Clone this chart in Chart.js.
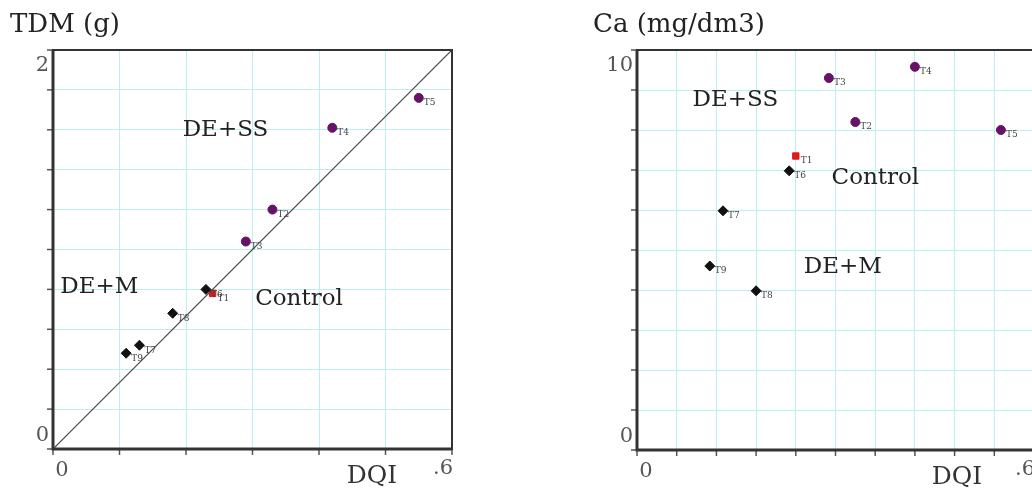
<!DOCTYPE html>
<html>
<head>
<meta charset="utf-8">
<script src="https://cdn.jsdelivr.net/npm/chart.js@4.4.1/dist/chart.umd.min.js"></script>
<style>
  html, body { margin: 0; padding: 0; background: #fff; width: 1032px; height: 491px; overflow: hidden; }
  canvas { position: absolute; top: 0; }
  #tdmChart { left: 0; }
  #caChart { left: 560px; }
</style>
</head>
<body>
<canvas id="tdmChart" width="480" height="491"></canvas>
<canvas id="caChart" width="480" height="491"></canvas>
<script>
// ─── data ────────────────────────────────────────────────────────────────────
const TREATMENTS = ['T1', 'T2', 'T3', 'T4', 'T5', 'T6', 'T7', 'T8', 'T9'];
const DQI        = [0.24, 0.33, 0.29, 0.42, 0.55, 0.23, 0.13, 0.18, 0.11];
const TDM        = [0.78, 1.20, 1.04, 1.61, 1.76, 0.80, 0.52, 0.68, 0.48];
const CA         = [7.35, 8.2, 9.3, 9.58, 8.0, 6.98, 5.98, 3.98, 4.6];

const CONTROL_IDX = [0];
const DESS_IDX    = [1, 2, 3, 4];
const DEM_IDX     = [5, 6, 7, 8];

const DIAG_X = [0, 0.6];
const DIAG_Y = [0, 2];

const SERIF = '"DejaVu Serif", "Liberation Serif", serif';

function points(idx, ys) {
  return idx.map(i => ({ x: DQI[i], y: ys[i], t: TREATMENTS[i] }));
}

function groupDatasets(ys) {
  return [
    { label: 'DE+SS', data: points(DESS_IDX, ys), pointStyle: 'circle', pointRadius: 4.5,
      backgroundColor: '#661268', borderColor: '#661268', tags: true },
    { label: 'DE+M', data: points(DEM_IDX, ys), pointStyle: 'rectRot', pointRadius: 5,
      backgroundColor: '#111', borderColor: '#111', tags: true },
    { label: 'Control', data: points(CONTROL_IDX, ys), pointStyle: 'rect', pointRadius: 4.5,
      backgroundColor: '#e0191d', borderColor: '#e0191d', tags: true },
  ];
}

// box, ticks, texts and point tags
const decorPlugin = {
  id: 'decor',
  afterDatasetsDraw(chart, args, opts) {
    const { ctx, chartArea: a, scales } = chart;
    const x = scales.x, y = scales.y;
    ctx.save();

    // tick marks
    ctx.strokeStyle = '#555';
    ctx.lineWidth = 1.5;
    x.ticks.forEach(t => {
      const px = x.getPixelForValue(t.value);
      ctx.beginPath(); ctx.moveTo(px, a.bottom); ctx.lineTo(px, a.bottom + 6); ctx.stroke();
    });
    y.ticks.forEach(t => {
      const py = y.getPixelForValue(t.value);
      ctx.beginPath(); ctx.moveTo(a.left - 6, py); ctx.lineTo(a.left, py); ctx.stroke();
    });

    // frame
    ctx.strokeStyle = '#333';
    ctx.lineWidth = 2;
    ctx.strokeRect(a.left, a.top, a.right - a.left, a.bottom - a.top);
    ctx.lineWidth = 3;
    ctx.beginPath();
    ctx.moveTo(a.left, a.top); ctx.lineTo(a.left, a.bottom); ctx.lineTo(a.right, a.bottom);
    ctx.stroke();

    // point tags
    ctx.fillStyle = '#444';
    ctx.font = '9px ' + SERIF;
    ctx.textAlign = 'left';
    ctx.textBaseline = 'middle';
    chart.data.datasets.forEach((ds, di) => {
      if (!ds.tags) return;
      chart.getDatasetMeta(di).data.forEach((el, i) => {
        ctx.fillText(ds.data[i].t, el.x + 5, el.y + 5);
      });
    });

    // title
    ctx.fillStyle = '#222';
    ctx.font = '26px ' + SERIF;
    ctx.textAlign = 'left';
    ctx.textBaseline = 'alphabetic';
    ctx.fillText(opts.title, opts.titleX, 32);
    ctx.textBaseline = 'middle';

    // axis end labels
    ctx.fillStyle = '#555';
    ctx.font = '21px ' + SERIF;
    ctx.textAlign = 'right';
    ctx.fillText(opts.yTop, a.left - 4, a.top + 16);
    ctx.fillText(opts.yBottom, a.left - 4, a.bottom - 13);
    ctx.textAlign = 'center';
    ctx.fillText('0', a.left + 9, a.bottom + 22);
    ctx.fillText('.6', a.right - 9, a.bottom + 20);
    ctx.fillStyle = '#333';
    ctx.font = '25px ' + SERIF;
    ctx.fillText('DQI', opts.dqiX, a.bottom + 27);

    // group labels
    ctx.fillStyle = '#222';
    ctx.font = '23px ' + SERIF;
    ctx.textAlign = 'left';
    opts.notes.forEach(n => {
      ctx.fillText(n.text, x.getPixelForValue(n.x), y.getPixelForValue(n.y));
    });
    ctx.restore();
  }
};

function makeOptions(yMax, yStep, xStep, padding, decor) {
  return {
    responsive: false,
    animation: false,
    devicePixelRatio: 1,
    layout: { padding },
    plugins: { legend: { display: false }, tooltip: { enabled: false }, decor },
    scales: {
      x: { type: 'linear', min: 0, max: 0.6, ticks: { display: false, stepSize: xStep },
           grid: { color: '#bdeef0', lineWidth: 1, drawTicks: false }, border: { display: false } },
      y: { type: 'linear', min: 0, max: yMax, ticks: { display: false, stepSize: yStep },
           grid: { color: '#bdeef0', lineWidth: 1, drawTicks: false }, border: { display: false } },
    },
  };
}

function initTdmChart() {
  const ds = groupDatasets(TDM);
  ds.unshift({
    label: 'diagonal',
    data: DIAG_X.map((v, i) => ({ x: v, y: DIAG_Y[i] })),
    showLine: true,
    borderColor: '#444', backgroundColor: '#444', borderWidth: 1.2, pointRadius: 0,
  });
  new Chart(document.getElementById('tdmChart'), {
    type: 'scatter',
    data: { datasets: ds },
    options: makeOptions(2, 0.2, 0.1, { left: 53, top: 50, right: 28, bottom: 42 }, {
      title: 'TDM (g)', titleX: 10, yTop: '2', yBottom: '0', dqiX: 372,
      notes: [
        { text: 'DE+SS', x: 0.195, y: 1.60 },
        { text: 'DE+M', x: 0.011, y: 0.81 },
        { text: 'Control', x: 0.304, y: 0.75 },
      ],
    }),
    plugins: [decorPlugin],
  });
}

function initCaChart() {
  new Chart(document.getElementById('caChart'), {
    type: 'scatter',
    data: { datasets: groupDatasets(CA) },
    options: makeOptions(10, 1, 0.06, { left: 77, top: 50, right: 3, bottom: 41 }, {
      title: 'Ca (mg/dm3)', titleX: 33, yTop: '10', yBottom: '0', dqiX: 397,
      notes: [
        { text: 'DE+SS', x: 0.084, y: 8.75 },
        { text: 'Control', x: 0.294, y: 6.8 },
        { text: 'DE+M', x: 0.252, y: 4.58 },
      ],
    }),
    plugins: [decorPlugin],
  });
}

initTdmChart();
initCaChart();
</script>
</body>
</html>
